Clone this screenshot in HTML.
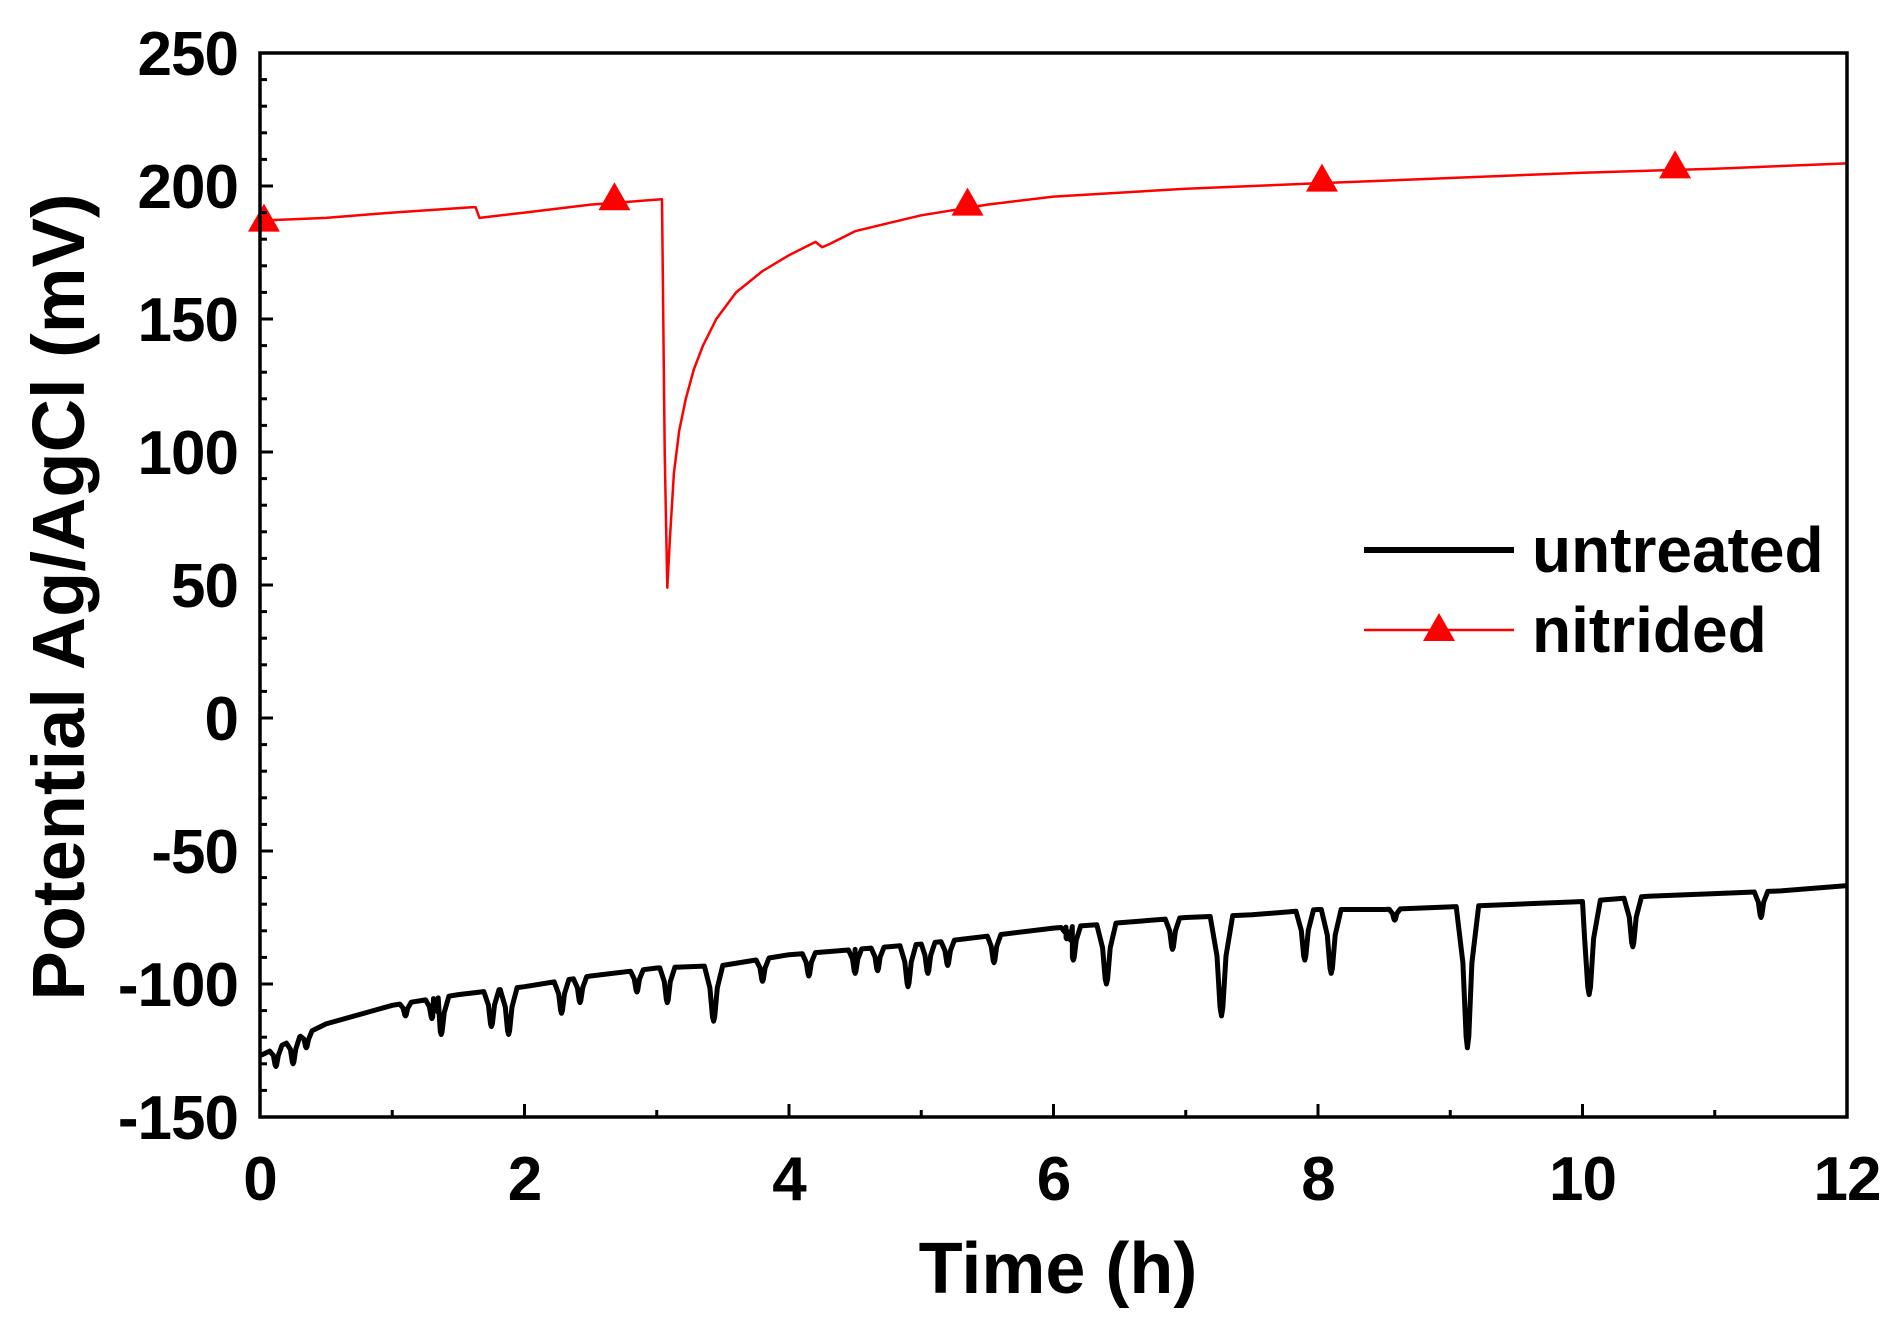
<!DOCTYPE html>
<html><head><meta charset="utf-8"><style>
body{margin:0;background:#fff;}
svg text{font-family:"Liberation Sans",Arial,sans-serif;font-weight:bold;fill:#000;}
</style></head><body>
<svg width="1902" height="1323" viewBox="0 0 1902 1323">
<g id="plot"></g>
</svg>
<script>
const xTicks=[0,2,4,6,8,10,12];
const yTicks=[-150,-100,-50,0,50,100,150,200,250];
const nitT=[0,0.5,1,1.6,1.63,1.66,2,2.5,3.04,3.06,3.08,3.1,3.13,3.17,3.22,3.28,3.35,3.45,3.6,3.8,4.0,4.2,4.25,4.3,4.5,4.75,5,5.5,6,7,8,9,10,11,12];
const nitV=[187,188,190,192,192,188,190,193,195,100,49,68,92,108,120,131,140,150,160,168,174,179,177,178,183,186,189,193,196,199,201,203,205,206.5,208.5];
const markT=[0.03,2.68,5.35,8.03,10.7];
const markV=[187,195,193,202,207];
const untBaseT=[0,0.5,1,1.5,2,2.5,3,3.5,4,4.5,5,5.5,6,6.5,7,7.5,8,8.5,9,9.5,10,10.5,11,11.5,12];
const untBaseV=[-127,-115,-108,-104,-101,-97,-94,-93,-89,-87,-85,-82,-79,-77,-75,-74,-72,-72,-71,-70,-69,-67,-66,-65,-63];
const spikeT=[0.12,0.25,0.35,1.1,1.3,1.37,1.75,1.88,2.28,2.42,2.85,3.08,3.43,3.8,4.15,4.5,4.67,4.9,5.05,5.2,5.55,6.1,6.15,6.4,6.9,7.27,7.9,8.1,8.58,9.13,10.05,10.38,11.35];
const spikeV=[-131,-130,-124,-112,-113,-119,-116,-119,-111,-107,-103,-107,-114,-99,-97,-96,-95,-101,-96,-93,-92,-83,-91,-100,-87,-112,-91,-96,-76,-124,-104,-86,-75];
const L=260,R=1847,T=53,B=1117;
const X=t=>L+(t/12)*(R-L);
const Y=v=>B-((v+150)/400)*(B-T);
const NS='http://www.w3.org/2000/svg';
const g=document.getElementById('plot');
function mk(tag,at){const e=document.createElementNS(NS,tag);for(const k in at)e.setAttribute(k,at[k]);g.appendChild(e);return e;}
function base(t){for(let i=0;i<untBaseT.length-1;i++){if(t<=untBaseT[i+1]){const f=(t-untBaseT[i])/(untBaseT[i+1]-untBaseT[i]);return untBaseV[i]+f*(untBaseV[i+1]-untBaseV[i]);}}return untBaseV[untBaseV.length-1];}
let evts=[];
untBaseT.forEach((t,i)=>evts.push([t,untBaseV[i]]));
spikeT.forEach((t,i)=>{const w=0.035+Math.min(0.05,(base(t)-spikeV[i])/600);const dv=base(t)-spikeV[i];
evts.push([t-w,base(t-w)]);evts.push([t-w*0.4,spikeV[i]+dv*0.6]);evts.push([t-w*0.12,spikeV[i]+dv*0.08]);evts.push([t,spikeV[i]]);evts.push([t+w*0.12,spikeV[i]+dv*0.08]);evts.push([t+w*0.4,spikeV[i]+dv*0.6]);evts.push([t+w,base(t+w)]);});
evts.sort((a,b)=>a[0]-b[0]);
evts=evts.filter(e=>e[0]>=0&&e[0]<=12);
let d='M'+evts.map(e=>X(e[0]).toFixed(1)+','+Y(e[1]).toFixed(1)).join('L');
let u=mk('path',{d:d,fill:'none',stroke:'#000','stroke-width':5,'stroke-linejoin':'round'});


d='M'+nitT.map((t,i)=>X(t).toFixed(1)+','+Y(nitV[i]).toFixed(1)).join('L');
let n=mk('path',{d:d,fill:'none',stroke:'#f00','stroke-width':2.5,'stroke-linejoin':'round'});


markT.forEach((t,i)=>{const x=X(t),y=Y(markV[i]);const m=mk('polygon',{points:`${x},${y-17} ${x-16},${y+11} ${x+16},${y+11}`,fill:'#f00'});

});
let fr=mk('rect',{x:L,y:T,width:R-L,height:B-T,fill:'none',stroke:'#000','stroke-width':3.5});


for(let v=-150;v<=250;v+=10){const maj=v%50===0;mk('line',{x1:L,x2:L+(maj?13:7),y1:Y(v),y2:Y(v),stroke:'#000','stroke-width':3});}
for(let t=0;t<=12;t++){const maj=t%2===0;mk('line',{x1:X(t),x2:X(t),y1:B,y2:B-(maj?13:7),stroke:'#000','stroke-width':3});}
yTicks.forEach(v=>{const e=mk('text',{x:L-22,y:Y(v)+22,'text-anchor':'end','font-size':62,'letter-spacing':-1});e.textContent=v;

});
xTicks.forEach(t=>{const e=mk('text',{x:X(t),y:1200,'text-anchor':'middle','font-size':62,'letter-spacing':-1});e.textContent=t;

});
let xt=mk('text',{x:1058,y:1293,'text-anchor':'middle','font-size':72});xt.textContent='Time (h)';


let yt=mk('text',{x:0,y:0,'text-anchor':'middle','font-size':74,transform:'translate(84,597) rotate(-90)'});yt.textContent='Potential Ag/AgCl (mV)';


let l1=mk('line',{x1:1364,x2:1514,y1:550,y2:550,stroke:'#000','stroke-width':6});


let t1=mk('text',{x:1532,y:572,'font-size':64});t1.textContent='untreated';


let l2=mk('line',{x1:1364,x2:1514,y1:630,y2:630,stroke:'#f00','stroke-width':2.5});


let lm=mk('polygon',{points:'1439,613 1423,641 1455,641',fill:'#f00'});


let t2=mk('text',{x:1532,y:652,'font-size':64});t2.textContent='nitrided';


</script>
</body></html>
